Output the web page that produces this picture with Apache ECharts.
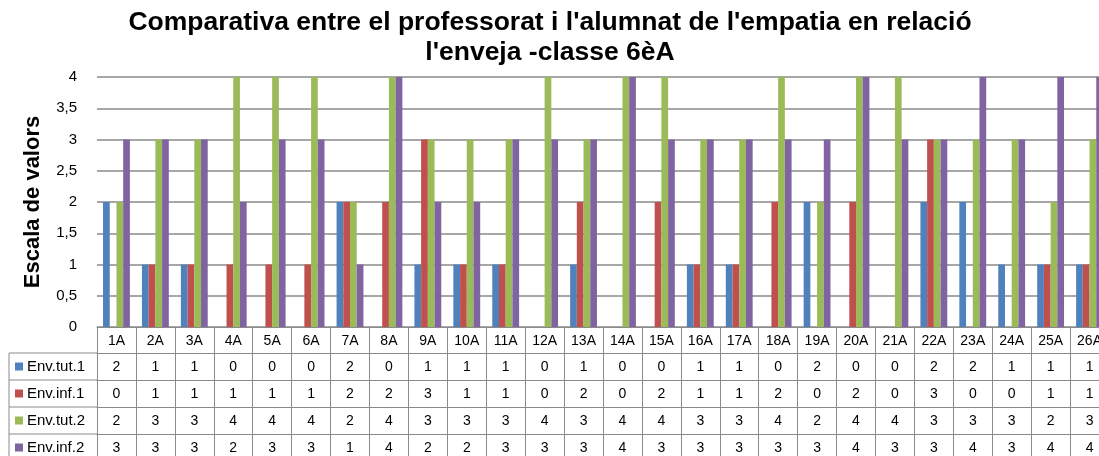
<!DOCTYPE html>
<html>
<head>
<meta charset="utf-8">
<script src="https://cdn.jsdelivr.net/npm/echarts@6/dist/echarts.min.js"></script>
<style>
  html, body { margin: 0; padding: 0; background: #fff; overflow: hidden; }
  #main { width: 1109px; height: 456px; }
</style>
</head>
<body>
<div id="main"></div>
<script>
  // dades llegides de la taula del gràfic
  var categories = ['1A', '2A', '3A', '4A', '5A', '6A', '7A', '8A', '9A', '10A', '11A', '12A', '13A',
    '14A', '15A', '16A', '17A', '18A', '19A', '20A', '21A', '22A', '23A', '24A', '25A', '26A']
  var seriesNames = ['Env.tut.1', 'Env.inf.1', 'Env.tut.2', 'Env.inf.2']
  var envTut1 = [2, 1, 1, 0, 0, 0, 2, 0, 1, 1, 1, 0, 1, 0, 0, 1, 1, 0, 2, 0, 0, 2, 2, 1, 1, 1]
  var envInf1 = [0, 1, 1, 1, 1, 1, 2, 2, 3, 1, 1, 0, 2, 0, 2, 1, 1, 2, 0, 2, 0, 3, 0, 0, 1, 1]
  var envTut2 = [2, 3, 3, 4, 4, 4, 2, 4, 3, 3, 3, 4, 3, 4, 4, 3, 3, 4, 2, 4, 4, 3, 3, 3, 2, 3]
  var envInf2 = [3, 3, 3, 2, 3, 3, 1, 4, 2, 2, 3, 3, 3, 4, 3, 3, 3, 3, 3, 4, 3, 3, 4, 3, 4, 4]
  var yTicks = [0, 0.5, 1, 1.5, 2, 2.5, 3, 3.5, 4]

  var seriesData = [envTut1, envInf1, envTut2, envInf2]
  var colors = ['#4F81BD', '#C0504D', '#9BBB59', '#8064A2']
  var lineColor = '#8a8a8a'
  var font = 'Liberation Sans, Arial, sans-serif'

  var gridTop = 77
  var gridBottom = 129
  var axisY = 456 - gridBottom
  var headH = 26
  var rowH = 27

  // el gràfic original queda tallat pel marge dret: el contenidor és una mica més ample que la finestra
  var chart = echarts.init(document.getElementById('main'))

  var xAxes = [{
    type: 'category',
    data: categories,
    position: 'bottom',
    axisLine: { show: true, lineStyle: { color: lineColor, width: 1 } },
    axisTick: { show: true, interval: 0, length: headH, lineStyle: { color: lineColor } },
    axisLabel: { interval: 0, margin: 7, fontSize: 14, color: '#000', fontFamily: font },
    splitLine: { show: false }
  }]
  seriesData.forEach(function (vals, k) {
    xAxes.push({
      type: 'category',
      data: categories,
      position: 'bottom',
      offset: headH + rowH * k,
      axisLine: { show: true, onZero: false, lineStyle: { color: lineColor, width: 1 } },
      axisTick: { show: true, interval: 0, length: rowH, lineStyle: { color: lineColor } },
      axisLabel: {
        interval: 0, margin: 7, fontSize: 14, color: '#000', fontFamily: font,
        formatter: function (v, i) { return String(vals[i]) }
      },
      splitLine: { show: false }
    })
  })

  // títol centrat (dues línies)
  var graphics = [{
    type: 'text', silent: true,
    x: 550, y: 8,
    style: {
      text: "Comparativa entre el professorat i l'alumnat de l'empatia en relació\nl'enveja -classe 6èA",
      align: 'center', verticalAlign: 'top',
      fontSize: 26.5, fontWeight: 'bold', lineHeight: 30, fontFamily: font, fill: '#000'
    }
  }]

  // columna de llegenda a l'esquerra de la taula
  var legendLeft = 9
  var legendRight = 97
  var tableTop = axisY + headH
  graphics.push({
    type: 'line', silent: true,
    shape: { x1: legendLeft, y1: tableTop, x2: legendLeft, y2: tableTop + rowH * 4 },
    style: { stroke: lineColor, lineWidth: 1 }
  })
  seriesNames.forEach(function (name, k) {
    var y0 = tableTop + rowH * k
    graphics.push({
      type: 'line', silent: true,
      shape: { x1: legendLeft, y1: y0, x2: legendRight, y2: y0 },
      style: { stroke: lineColor, lineWidth: 1 }
    })
    graphics.push({
      type: 'rect', silent: true,
      shape: { x: 15, y: y0 + rowH / 2 - 4, width: 8, height: 8 },
      style: { fill: colors[k] }
    })
    graphics.push({
      type: 'text', silent: true,
      x: 27, y: y0 + rowH / 2,
      style: { text: name, fontSize: 15, fontFamily: font, fill: '#000', verticalAlign: 'middle' }
    })
  })

  chart.setOption({
    animation: false,
    textStyle: { fontFamily: font },
    grid: { left: 97, right: 0, top: gridTop, bottom: gridBottom, containLabel: false },
    xAxis: xAxes,
    yAxis: {
      type: 'value',
      min: yTicks[0],
      max: yTicks[yTicks.length - 1],
      interval: 0.5,
      name: 'Escala de valors',
      nameLocation: 'middle',
      nameGap: 53,
      nameTextStyle: { fontSize: 22, fontWeight: 'bold', color: '#000', fontFamily: font },
      axisLine: { show: false },
      axisTick: { show: false },
      axisLabel: {
        margin: 20, fontSize: 15, color: '#000', fontFamily: font,
        formatter: function (v) { return String(v).replace('.', ',') }
      },
      splitLine: { lineStyle: { color: lineColor, width: 1.5 } }
    },
    series: seriesData.map(function (vals, k) {
      return {
        name: seriesNames[k],
        type: 'bar',
        xAxisIndex: 0,
        data: vals,
        barGap: '0%',
        barCategoryGap: '31%',
        itemStyle: { color: colors[k] }
      }
    }),
    graphic: graphics
  })
</script>
</body>
</html>
